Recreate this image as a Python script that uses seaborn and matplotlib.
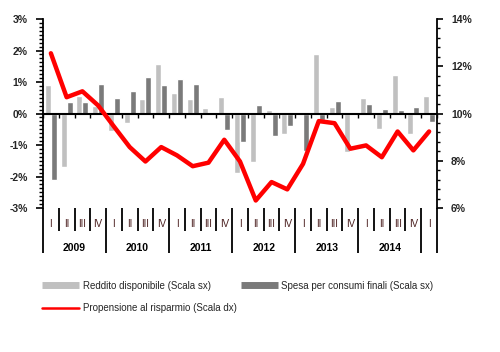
import numpy as np
import pandas as pd
import matplotlib
matplotlib.use("Agg")
import matplotlib.pyplot as plt
import seaborn as sns
from matplotlib.lines import Line2D

# ---- data ----
quarters = ["I", "II", "III", "IV"] * 6 + ["I"]
years = ["2009", "2010", "2011", "2012", "2013", "2014"]
reddito = [0.90, -1.70, 0.55, 0.25, -0.57, -0.30, 0.45, 1.56, 0.64, 0.45, 0.18, 0.54,
           -1.88, -1.55, 0.12, -0.66, -0.02, 1.88, 0.22, -1.21, 0.48, -0.49, 1.23, -0.66, 0.57]
spesa = [-2.12, 0.37, 0.37, 0.94, 0.49, 0.71, 1.17, 0.90, 1.08, 0.95, -0.03, -0.51,
         -0.91, 0.27, -0.70, -0.39, -1.19, -0.20, 0.41, -0.02, 0.31, 0.13, 0.10, 0.21, -0.26]
risparmio = [12.55, 10.69, 10.94, 10.34, 9.45, 8.58, 7.97, 8.58, 8.23, 7.77, 7.92, 8.89,
             7.97, 6.32, 7.10, 6.79, 7.87, 9.68, 9.59, 8.51, 8.65, 8.15, 9.24, 8.44, 9.24]
left_ticks = [-3, -2, -1, 0, 1, 2, 3]
right_ticks = [6, 8, 10, 12, 14]
lab_red = "Reddito disponibile (Scala sx)"
lab_spe = "Spesa per consumi finali (Scala sx)"
lab_ris = "Propensione al risparmio (Scala dx)"

n = len(quarters)
qid = list(range(n))
df = pd.DataFrame({
    "q": qid * 2,
    "val": reddito + spesa,
    "serie": [lab_red] * n + [lab_spe] * n,
})
df_line = pd.DataFrame({"pos": qid, "val": risparmio})

sns.set_theme(style="white")
plt.rcParams["font.family"] = ["Liberation Sans", "DejaVu Sans"]

c_light = "#c0c0c0"
c_dark = "#7a7a7a"
c_red = "#ff0000"

fig = plt.figure(figsize=(5.0, 3.52), dpi=100)
ax = fig.add_axes([0.086, 0.409, 0.788, 0.537])

sns.barplot(data=df, x="q", y="val", hue="serie", palette=[c_light, c_dark],
            width=0.76, saturation=1, legend=False, ax=ax, native_scale=False)
ax.set_xlim(-0.5, n - 0.5)
ax.set_ylim(-3, 3)
ax.set_xlabel("")
ax.set_ylabel("")

# left axis
ax.set_yticks(left_ticks)
ax.set_yticklabels([f"{t}%" for t in left_ticks], fontsize=7.5, fontweight="bold")
ax.set_yticks(np.arange(-3, 3.01, 0.125), minor=True)
ax.tick_params(axis="y", which="major", direction="out", length=5, width=1.2, pad=6, left=True, color="black")
ax.tick_params(axis="y", which="minor", direction="out", length=3, width=1.0, left=True, color="black")

# category axis crossing at zero
for s in ["top", "right"]:
    ax.spines[s].set_visible(False)
ax.spines["left"].set_color("black")
ax.spines["left"].set_linewidth(1.3)
ax.spines["bottom"].set_position(("data", 0))
ax.spines["bottom"].set_color("black")
ax.spines["bottom"].set_linewidth(1.5)
ax.spines["bottom"].set_zorder(3)
ax.set_xticks(np.arange(-0.5, n, 1.0))
ax.set_xticklabels([])
ax.tick_params(axis="x", which="major", direction="out", length=3, width=1.0, bottom=True, color="black")

# right axis with line
ax2 = ax.twinx()
sns.lineplot(data=df_line, x="pos", y="val", color=c_red, linewidth=3.2, ax=ax2)
ax2.set_ylim(6, 14)
ax2.set_ylabel("")
ax2.set_yticks(right_ticks)
ax2.set_yticklabels([f"{t}%" for t in right_ticks], fontsize=7.5, fontweight="bold")
ax2.set_yticks(np.arange(6, 14.01, 0.4), minor=True)
ax2.tick_params(axis="y", which="major", direction="out", length=4, width=1.2, pad=6, right=True, color="black")
ax2.tick_params(axis="y", which="minor", direction="out", length=2.5, width=1.0, right=True, color="black")
for s in ["top", "left", "bottom"]:
    ax2.spines[s].set_visible(False)
ax2.spines["right"].set_color("black")
ax2.spines["right"].set_linewidth(1.3)
ax2.set_xlim(-0.5, n - 0.5)

# category labels below the plot
tr = ax.get_xaxis_transform()
for b in range(n + 1):
    xb = b - 0.5
    long = (b % 4 == 0 and b < n) or b == n
    ax.plot([xb, xb], [0, -0.238 if long else -0.122], transform=tr, color="black",
            linewidth=1.3, clip_on=False, solid_capstyle="butt")
for i, q in enumerate(quarters):
    ax.text(i, -0.085, q, transform=tr, ha="center", va="center", fontsize=7,
            color="#4a1f1f", clip_on=False)
for k, y in enumerate(years):
    ax.text(4 * k + 1.5, -0.212, y, transform=tr, ha="center", va="center", fontsize=7.5,
            fontweight="bold", color="black", clip_on=False)

# legend
handles = [
    Line2D([], [], color=c_light, linewidth=5, solid_capstyle="butt"),
    Line2D([], [], color=c_red, linewidth=1.8),
    Line2D([], [], color=c_dark, linewidth=5, solid_capstyle="butt"),
]
fig.legend(handles, [lab_red, lab_ris, lab_spe], loc="upper left",
           bbox_to_anchor=(0.084, 0.203), ncol=2, frameon=False, fontsize=7,
           handlelength=3.8, handletextpad=0.4, columnspacing=0.4,
           labelspacing=1.3, borderpad=0, borderaxespad=0)

fig.savefig("out.png", dpi=100)
